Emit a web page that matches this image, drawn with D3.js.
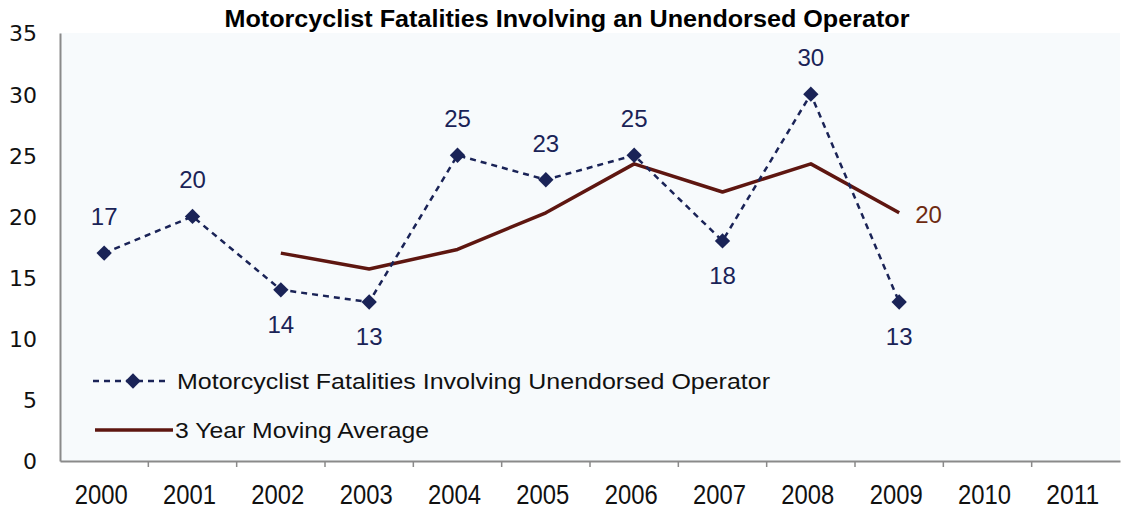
<!DOCTYPE html>
<html lang="en">
<head>
    <meta charset="UTF-8">
    <title>Motorcyclist Fatalities Involving an Unendorsed Operator</title>
    <script src="https://cdn.jsdelivr.net/npm/d3@7"></script>
    <style>
        body { margin: 0; background: #fff; }
        .y-axis text { font-family: "DejaVu Sans", sans-serif; font-size: 22px; fill: #111; }
        .x-axis text { font-family: "Liberation Sans", Arial, sans-serif; font-size: 28px; fill: #111; }
        .pt-label { font-family: "Liberation Sans", Arial, sans-serif; font-size: 24px; }
        .legend-text { font-family: "Liberation Sans", Arial, sans-serif; font-size: 22px; fill: #111; }
    </style>
</head>
<body>
    <svg width="1122" height="510" id="chart"></svg>
    <script>
        const years = ["2000", "2001", "2002", "2003", "2004", "2005", "2006", "2007", "2008", "2009", "2010", "2011"];
        const fatalYears = ["2000", "2001", "2002", "2003", "2004", "2005", "2006", "2007", "2008", "2009"];
        const fatalities = [17, 20, 14, 13, 25, 23, 25, 18, 30, 13];
        const avgYears = ["2002", "2003", "2004", "2005", "2006", "2007", "2008", "2009"];
        const movingAvg = [17, 15.7, 17.3, 20.3, 24.3, 22, 24.3, 20.3];
        const labelBelow = ["2002", "2003", "2007", "2009"];
        const yTicks = [0, 5, 10, 15, 20, 25, 30, 35];

        const navy = "#1a2357";
        const brown = "#5e1610";

        const svg = d3.select("#chart");
        const plotLeft = 60, plotRight = 1120, plotTop = 33, plotBottom = 461;

        const x = d3.scaleBand().domain(years).range([plotLeft, plotRight]).padding(0);
        const y = d3.scaleLinear().domain([0, 35]).range([plotBottom, plotTop]);

        // plot background
        svg.append("rect")
            .attr("x", plotLeft).attr("y", plotTop)
            .attr("width", plotRight - plotLeft).attr("height", plotBottom - plotTop)
            .attr("fill", "#f7fafc");

        // title
        svg.append("text")
            .attr("x", 567).attr("y", 27)
            .attr("text-anchor", "middle")
            .attr("textLength", 685)
            .attr("lengthAdjust", "spacingAndGlyphs")
            .style("font-family", "'Liberation Sans', Arial, sans-serif")
            .style("font-weight", "bold")
            .style("font-size", "23px")
            .text("Motorcyclist Fatalities Involving an Unendorsed Operator");

        // y axis
        const yAxisG = svg.append("g")
            .attr("class", "y-axis")
            .attr("transform", `translate(${plotLeft},0)`)
            .call(d3.axisLeft(y).tickValues(yTicks).tickSize(0).tickPadding(23));
        yAxisG.select(".domain").attr("stroke", "#8a8a8a").attr("stroke-width", 2);
        yAxisG.selectAll("text").attr("dy", "0.36em");

        // x axis: labels centred, tick marks between categories
        const xAxisG = svg.append("g")
            .attr("class", "x-axis")
            .attr("transform", `translate(0,${plotBottom})`)
            .call(d3.axisBottom(x).tickSize(0).tickPadding(24));
        xAxisG.select(".domain").attr("stroke", "#8a8a8a").attr("stroke-width", 2);
        xAxisG.selectAll(".tick text")
            .attr("dy", "0.71em").attr("y", 23).attr("x", -3)
            .attr("textLength", 53)
            .attr("lengthAdjust", "spacingAndGlyphs");

        svg.append("g").selectAll("line")
            .data(years.slice(1))
            .join("line")
            .attr("x1", d => x(d)).attr("x2", d => x(d))
            .attr("y1", plotBottom).attr("y2", plotBottom + 6)
            .attr("stroke", "#8a8a8a").attr("stroke-width", 1.5);

        const cx = d => x(d) + x.bandwidth() / 2;

        // moving average line
        const avgData = avgYears.map((d, i) => ({year: d, value: movingAvg[i]}));
        svg.append("path")
            .datum(avgData)
            .attr("fill", "none")
            .attr("stroke", brown)
            .attr("stroke-width", 3.5)
            .attr("stroke-linejoin", "round")
            .attr("d", d3.line().x(d => cx(d.year)).y(d => y(d.value)));

        svg.append("text")
            .attr("class", "pt-label")
            .attr("x", cx(avgData[avgData.length - 1].year) + 16)
            .attr("y", y(avgData[avgData.length - 1].value) + 10)
            .attr("fill", "#6e2a10")
            .text(Math.round(movingAvg[movingAvg.length - 1]));

        // fatalities dashed line
        const fatData = fatalYears.map((d, i) => ({year: d, value: fatalities[i]}));
        svg.append("path")
            .datum(fatData)
            .attr("fill", "none")
            .attr("stroke", navy)
            .attr("stroke-width", 2.5)
            .attr("stroke-dasharray", "6,5")
            .attr("d", d3.line().x(d => cx(d.year)).y(d => y(d.value)));

        const diamond = d3.symbol().type(d3.symbolDiamond2).size(150);
        svg.append("g").selectAll("path")
            .data(fatData)
            .join("path")
            .attr("transform", d => `translate(${cx(d.year)},${y(d.value)})`)
            .attr("d", diamond)
            .attr("fill", navy);

        svg.append("g").selectAll("text")
            .data(fatData)
            .join("text")
            .attr("class", "pt-label")
            .attr("x", d => cx(d.year))
            .attr("y", d => labelBelow.includes(d.year) ? y(d.value) + 43 : y(d.value) - 28)
            .attr("text-anchor", "middle")
            .attr("fill", navy)
            .text(d => d.value);

        // legend
        const lg = svg.append("g");
        lg.append("line")
            .attr("x1", 93).attr("x2", 170).attr("y1", 381).attr("y2", 381)
            .attr("stroke", navy).attr("stroke-width", 2.5).attr("stroke-dasharray", "6,5");
        lg.append("path")
            .attr("transform", "translate(133,381)")
            .attr("d", diamond)
            .attr("fill", navy);
        lg.append("text")
            .attr("class", "legend-text")
            .attr("x", 177).attr("y", 389)
            .attr("textLength", 593)
            .attr("lengthAdjust", "spacingAndGlyphs")
            .text("Motorcyclist Fatalities Involving Unendorsed Operator");

        lg.append("line")
            .attr("x1", 95).attr("x2", 173).attr("y1", 430).attr("y2", 430)
            .attr("stroke", brown).attr("stroke-width", 3.5);
        lg.append("text")
            .attr("class", "legend-text")
            .attr("x", 175).attr("y", 438)
            .attr("textLength", 254)
            .attr("lengthAdjust", "spacingAndGlyphs")
            .text("3 Year Moving Average");
    </script>
</body>
</html>
